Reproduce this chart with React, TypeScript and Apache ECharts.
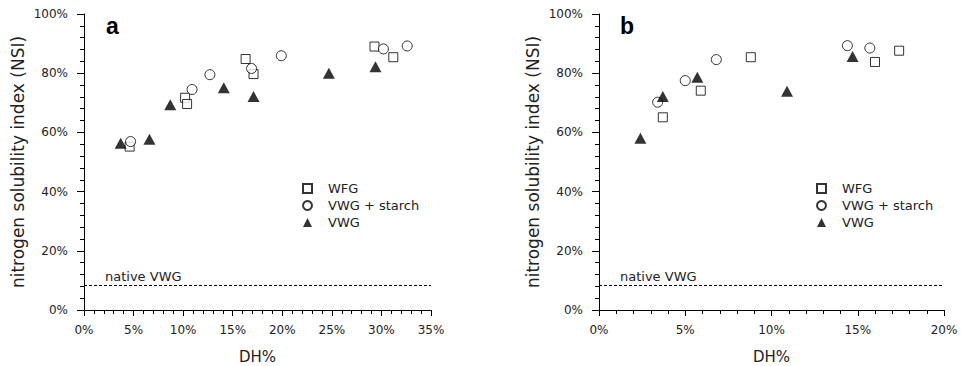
import React, { useEffect, useRef } from "react";
import * as echarts from "echarts";

// Panel a (DH% vs NSI %)
const aWFG: number[][] = [[4.6, 55.2], [10.2, 71.7], [10.4, 69.6], [16.3, 84.8], [17.1, 79.7], [29.3, 89.0], [31.2, 85.4]];
const aStarch: number[][] = [[4.7, 56.9], [10.9, 74.5], [12.7, 79.5], [16.9, 81.6], [19.9, 85.9], [30.2, 88.2], [32.6, 89.2]];
const aVWG: number[][] = [[3.7, 56.3], [6.6, 57.7], [8.7, 69.3], [14.1, 75.1], [17.1, 72.1], [24.7, 80.0], [29.4, 82.2]];
// Panel b
const bWFG: number[][] = [[3.7, 65.1], [5.9, 74.1], [8.8, 85.4], [16.0, 83.8], [17.4, 87.6]];
const bStarch: number[][] = [[3.4, 70.2], [5.0, 77.5], [6.8, 84.6], [14.4, 89.3], [15.7, 88.5]];
const bVWG: number[][] = [[2.4, 58.0], [3.7, 72.1], [5.7, 78.6], [10.9, 73.9], [14.7, 85.6]];
const nativeVWG = 8.2;

const seriesNames = ["WFG", "VWG + starch", "VWG"];
const panelLabels = ["a", "b"];
const xMaxes = [35, 20];
const yName = "nitrogen solubility index (NSI)";
const xName = "DH%";
const nativeLabel = "native VWG";

const FONT = "DejaVu Sans";
const TXT = "#222";

export default function App() {
  const ref = useRef<HTMLDivElement>(null);
  useEffect(() => {
    document.body.style.margin = "0";
    if (!ref.current) return;
    const chart = echarts.init(ref.current, undefined, { renderer: "svg" });
    const grids = [
      { left: 84, top: 14, width: 347, height: 296, containLabel: false, outerBoundsMode: "none" },
      { left: 599, top: 14, width: 345, height: 296, containLabel: false, outerBoundsMode: "none" },
    ];
    const mkX = (i: number) => ({
      type: "value",
      gridIndex: i,
      min: 0,
      max: xMaxes[i],
      interval: 5,
      name: xName,
      nameLocation: "middle",
      nameGap: 39,
      nameTextStyle: { fontFamily: FONT, fontSize: 15, color: TXT },
      axisLine: { show: true, onZero: false, lineStyle: { color: "#000", width: 1 } },
      axisTick: { show: true, length: 6, lineStyle: { color: "#000" } },
      minorTick: { show: true, splitNumber: 5, length: 4, lineStyle: { color: "#000" } },
      splitLine: { show: false },
      axisLabel: { formatter: "{value}%", fontFamily: FONT, fontSize: 12, color: TXT, margin: 14 },
    });
    const mkY = (i: number) => ({
      type: "value",
      gridIndex: i,
      min: 0,
      max: 100,
      interval: 20,
      name: yName,
      nameLocation: "middle",
      nameGap: 58,
      nameRotate: 90,
      nameTextStyle: { fontFamily: FONT, fontSize: 17, color: TXT },
      axisLine: { show: true, onZero: false, lineStyle: { color: "#000", width: 1 } },
      axisTick: { show: true, length: 7, lineStyle: { color: "#000" } },
      minorTick: { show: true, splitNumber: 5, length: 4, lineStyle: { color: "#000" } },
      splitLine: { show: false },
      axisLabel: { formatter: "{value}%", fontFamily: FONT, fontSize: 12, color: TXT, margin: 16 },
    });
    const styles = [
      { symbol: "rect", symbolSize: 9, itemStyle: { color: "#fff", borderColor: "#000", borderWidth: 1 } },
      { symbol: "circle", symbolSize: 10, itemStyle: { color: "#fff", borderColor: "#000", borderWidth: 1 } },
      { symbol: "triangle", symbolSize: [12, 11], itemStyle: { color: "#000", borderColor: "#000", borderWidth: 0 } },
    ];
    const dataSets = [
      [aWFG, aStarch, aVWG],
      [bWFG, bStarch, bVWG],
    ];
    const series: any[] = [];
    dataSets.forEach((set, gi) => {
      set.forEach((d, si) => {
        const s: any = {
          type: "scatter",
          name: seriesNames[si],
          xAxisIndex: gi,
          yAxisIndex: gi,
          data: d,
          ...styles[si],
        };
        if (si === 0) {
          s.markLine = {
            silent: true,
            symbol: "none",
            lineStyle: { type: [3, 2], color: "#000", width: 1 },
            label: {
              show: true,
              position: "insideStartTop",
              formatter: nativeLabel,
              distance: [21, 3],
              fontFamily: FONT,
              fontSize: 13,
              color: TXT,
            },
            data: [{ yAxis: nativeVWG }],
          };
        }
        series.push(s);
      });
    });
    const mkLegend = (left: number) => ({
      orient: "vertical",
      left,
      top: 182,
      itemWidth: 9,
      itemHeight: 9,
      itemGap: 4,
      padding: 0,
      selectedMode: false,
      data: seriesNames,
      textStyle: { fontFamily: FONT, fontSize: 13, color: TXT, padding: [0, 0, 0, 11] },
    });
    chart.setOption({
      animation: false,
      backgroundColor: "#fff",
      title: [
        { text: panelLabels[0], left: 106, top: 14, padding: 0, textStyle: { fontFamily: "Liberation Sans", fontWeight: "bold", fontSize: 23, color: "#000" } },
        { text: panelLabels[1], left: 620, top: 14, padding: 0, textStyle: { fontFamily: "Liberation Sans", fontWeight: "bold", fontSize: 23, color: "#000" } },
      ],
      legend: [mkLegend(302), mkLegend(816)],
      grid: grids,
      xAxis: [mkX(0), mkX(1)],
      yAxis: [mkY(0), mkY(1)],
      series,
    });
    return () => chart.dispose();
  }, []);
  return <div ref={ref} style={{ width: 962, height: 366 }} />;
}
